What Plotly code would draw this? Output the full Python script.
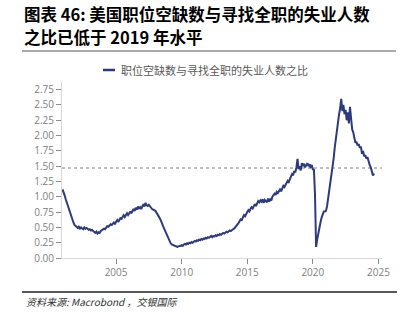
import pandas as pd
import plotly.graph_objects as go

# Ratio of job openings to unemployed persons seeking full-time work (monthly)
start_month = "2000-12-01"
ratio = [
    1.12,
    # 2001
    1.08, 1.02, 0.96, 0.90, 0.85, 0.80, 0.74, 0.70, 0.63, 0.58, 0.54, 0.52,
    # 2002
    0.50, 0.49, 0.51, 0.48, 0.50, 0.49, 0.47, 0.50, 0.48, 0.49, 0.47, 0.46,
    # 2003
    0.47, 0.45, 0.46, 0.44, 0.43, 0.41, 0.43, 0.40, 0.42, 0.41, 0.44, 0.45,
    # 2004
    0.46, 0.48, 0.47, 0.50, 0.52, 0.51, 0.53, 0.55, 0.54, 0.57, 0.58, 0.56,
    # 2005
    0.60, 0.62, 0.59, 0.63, 0.65, 0.64, 0.68, 0.70, 0.67, 0.71, 0.73, 0.70,
    # 2006
    0.74, 0.76, 0.73, 0.78, 0.80, 0.77, 0.82, 0.79, 0.84, 0.81, 0.83, 0.80,
    # 2007
    0.85, 0.88, 0.84, 0.90, 0.86, 0.85, 0.87, 0.84, 0.82, 0.80, 0.79, 0.78,
    # 2008
    0.77, 0.74, 0.72, 0.68, 0.65, 0.62, 0.57, 0.52, 0.48, 0.44, 0.39, 0.35,
    # 2009
    0.30, 0.27, 0.24, 0.22, 0.21, 0.20, 0.19, 0.19, 0.18, 0.19, 0.19, 0.20,
    # 2010
    0.21, 0.20, 0.22, 0.23, 0.22, 0.24, 0.23, 0.25, 0.24, 0.26, 0.25, 0.27,
    # 2011
    0.28, 0.27, 0.29, 0.28, 0.30, 0.29, 0.31, 0.30, 0.32, 0.31, 0.33, 0.32,
    # 2012
    0.34, 0.33, 0.35, 0.36, 0.34, 0.36, 0.35, 0.37, 0.36, 0.38, 0.37, 0.39,
    # 2013
    0.38, 0.40, 0.41, 0.40, 0.42, 0.43, 0.42, 0.44, 0.45, 0.44, 0.46, 0.47,
    # 2014
    0.48, 0.50, 0.52, 0.55, 0.57, 0.60, 0.63, 0.62, 0.66, 0.70, 0.68, 0.73,
    # 2015
    0.75, 0.78, 0.76, 0.80, 0.83, 0.81, 0.86, 0.88, 0.85, 0.90, 0.93, 0.91,
    # 2016
    0.94, 0.92, 0.96, 0.90, 0.95, 0.93, 0.91, 0.97, 0.92, 0.96, 0.94, 1.00,
    # 2017
    1.02, 1.05, 1.03, 1.08, 1.06, 1.10, 1.12, 1.09, 1.15, 1.18, 1.16, 1.20,
    # 2018
    1.22, 1.26, 1.24, 1.30, 1.33, 1.37, 1.35, 1.42, 1.40, 1.48, 1.62, 1.45,
    # 2019
    1.50, 1.43, 1.55, 1.50, 1.54, 1.48, 1.52, 1.55, 1.50, 1.53, 1.47, 1.52,
    # 2020
    1.45, 1.44, 1.05, 0.18, 0.30, 0.42, 0.50, 0.58, 0.66, 0.73, 0.76, 0.76,
    # 2021
    0.77, 0.85, 0.96, 1.08, 1.20, 1.30, 1.45, 1.62, 1.80, 1.95, 2.08, 2.22,
    # 2022
    2.35, 2.45, 2.60, 2.40, 2.50, 2.35, 2.42, 2.25, 2.38, 2.20, 2.47, 2.28,
    # 2023
    2.10, 2.05, 1.95, 1.88, 1.90, 1.84, 1.86, 1.80, 1.82, 1.70, 1.75, 1.66,
    # 2024
    1.68, 1.62, 1.65, 1.55, 1.52, 1.48, 1.42, 1.35, 1.38,
]

# 2019 reference level (dashed line)
ref_level = 1.47

tick_years = [2005, 2010, 2015, 2020, 2025]
y_ticks = [0.00, 0.25, 0.50, 0.75, 1.00, 1.25, 1.50, 1.75, 2.00, 2.25, 2.50, 2.75]

series_name = "职位空缺数与寻找全职的失业人数之比"
title_lines = ["图表 46: 美国职位空缺数与寻找全职的失业人数", "之比已低于 2019 年水平"]
source_text = "资料来源: Macrobond ，交银国际"

dates = pd.date_range(start_month, periods=len(ratio), freq="MS")

W, H = 409, 325
ML, MR, MT, MB = 62, 27, 82, 67
PW, PH = W - ML - MR, H - MT - MB


def px_x(x):
    return (x - ML) / PW


def px_y(y):
    return (H - MB - y) / PH


LINE_COLOR = "#2f3a78"
TICK_FONT = dict(family="Open Sans, Liberation Sans, sans-serif", size=10, color="#808080")
CJK = "Noto Sans CJK SC"

fig = go.Figure()
fig.add_trace(go.Scatter(
    x=dates, y=ratio, mode="lines", name=series_name,
    line=dict(color=LINE_COLOR, width=2), showlegend=False,
))

fig.add_shape(type="line", xref="paper", x0=0, x1=1, yref="y", y0=ref_level, y1=ref_level,
              line=dict(color="#7f7f7f", width=1, dash="3px,3px"), layer="below")

# legend drawn as a short line sample with its label
fig.add_shape(type="line", xref="paper", yref="paper",
              x0=px_x(103), x1=px_x(115), y0=px_y(70), y1=px_y(70),
              line=dict(color=LINE_COLOR, width=2.5))
fig.add_annotation(xref="paper", yref="paper", x=px_x(119), y=px_y(70),
                   xanchor="left", yanchor="middle", showarrow=False,
                   text=series_name, font=dict(family=CJK, size=11, color="#595959"))

# title block, one annotation per line
for line_text, y_px in zip(title_lines, [13.5, 36.5]):
    fig.add_annotation(xref="paper", yref="paper", x=px_x(23), y=px_y(y_px),
                       xanchor="left", yanchor="middle", showarrow=False, borderpad=0,
                       text="<b>" + line_text + "</b>",
                       font=dict(family=CJK, size=16.5, color="#000000"))
fig.add_shape(type="line", xref="paper", yref="paper",
              x0=px_x(22), x1=px_x(396), y0=px_y(51), y1=px_y(51),
              line=dict(color="#8c8c8c", width=1.5))

# footer
fig.add_shape(type="line", xref="paper", yref="paper",
              x0=px_x(22), x1=px_x(397), y0=px_y(292), y1=px_y(292),
              line=dict(color="#595959", width=2))
fig.add_annotation(xref="paper", yref="paper", x=px_x(24), y=px_y(301),
                   xanchor="left", yanchor="middle", showarrow=False,
                   text="<i>" + source_text + "</i>", font=dict(family=CJK, size=10, color="#333333"))

fig.update_layout(
    width=W, height=H,
    margin=dict(l=ML, r=MR, t=MT, b=MB, pad=0),
    paper_bgcolor="white", plot_bgcolor="white",
    xaxis=dict(
        type="date",
        range=["2000-11-17", "2025-04-10"],
        tickvals=[f"{y}-01-01" for y in tick_years],
        ticktext=[str(y) for y in tick_years],
        ticks="outside", ticklen=5, tickcolor="#8c8c8c", tickwidth=1,
        showline=True, linecolor="#d9d9d9", linewidth=1,
        showgrid=False, zeroline=False, tickfont=TICK_FONT,
    ),
    yaxis=dict(
        range=[0, 2.875],
        tickvals=y_ticks, tickformat=".2f",
        ticks="outside", ticklen=5, tickcolor="#8c8c8c", tickwidth=1,
        showline=True, linecolor="#d9d9d9", linewidth=1,
        showgrid=False, zeroline=False, tickfont=TICK_FONT,
    ),
)

fig.write_html("out.html")
